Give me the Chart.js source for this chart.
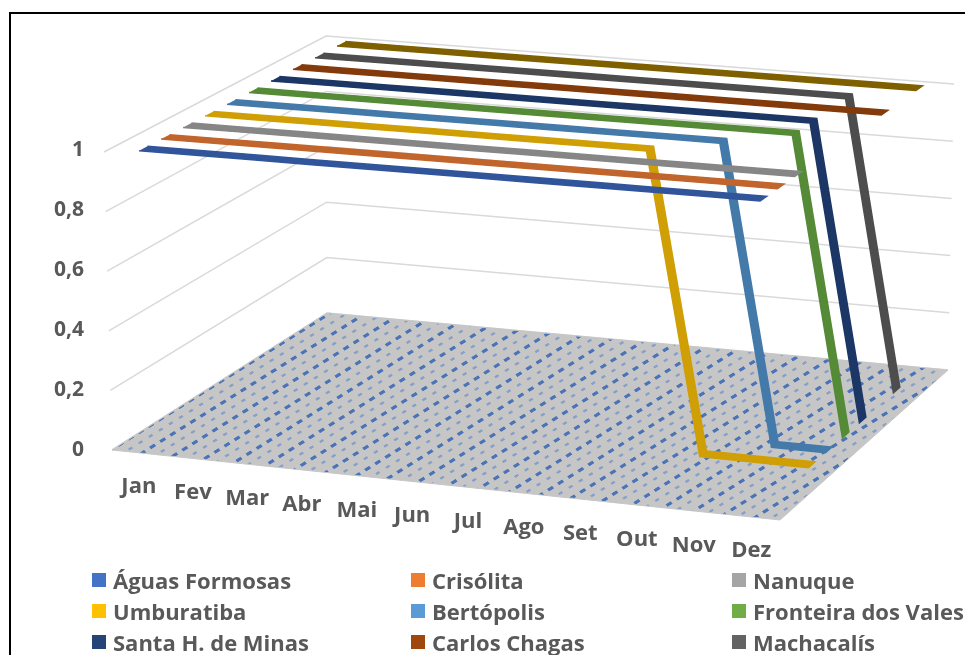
<!DOCTYPE html>
<html>
<head>
<meta charset="utf-8">
<style>
  html, body { margin: 0; padding: 0; width: 965px; height: 655px; overflow: hidden; background: #fff; }
  #frame { position: absolute; left: 9px; top: 12px; width: 1100px; height: 800px; border: 2px solid #000; }
  #c { position: absolute; left: 0; top: 0; }
  #legend { position: absolute; left: 0; top: 0; font: bold 22px "Open Sans", sans-serif; color: #595959; }
  #legend div { position: absolute; white-space: nowrap; line-height: 24px; }
  #legend i { position: absolute; left: -21px; top: 5px; width: 14px; height: 14px; }
</style>
<script src="https://cdn.jsdelivr.net/npm/chart.js@4"></script>
</head>
<body>
<div id="frame"></div>
<canvas id="c" width="965" height="655"></canvas>
<div id="legend"></div>
<script>
//data
var months = ['Jan', 'Fev', 'Mar', 'Abr', 'Mai', 'Jun', 'Jul', 'Ago', 'Set', 'Out', 'Nov', 'Dez'];
var yTicks = [0, 0.2, 0.4, 0.6, 0.8, 1];

var aguasFormosas = [1, 1, 1, 1, 1, 1, 1, 1, 1, 1, 1, 1];
var crisolita = [1, 1, 1, 1, 1, 1, 1, 1, 1, 1, 1, 1];
var nanuque = [1, 1, 1, 1, 1, 1, 1, 1, 1, 1, 1, 1];
var umburatiba = [1, 1, 1, 1, 1, 1, 1, 1, 1, 0, 0, 0];
var bertopolis = [1, 1, 1, 1, 1, 1, 1, 1, 1, 1, 0, 0];
var fronteira = [1, 1, 1, 1, 1, 1, 1, 1, 1, 1, 1, 0];
var santaH = [1, 1, 1, 1, 1, 1, 1, 1, 1, 1, 1, 0];
var carlosChagas = [1, 1, 1, 1, 1, 1, 1, 1, 1, 1, 1, 1];
var machacalis = [1, 1, 1, 1, 1, 1, 1, 1, 1, 1, 1, 0];
var decimaSerie = [1, 1, 1, 1, 1, 1, 1, 1, 1, 1, 1, 1]; //its legend entry is cut off in the picture

var seriesNames = ['Águas Formosas', 'Crisólita', 'Nanuque', 'Umburatiba', 'Bertópolis', 'Fronteira dos Vales', 'Santa H. de Minas', 'Carlos Chagas', 'Machacalís', ''];
var seriesValues = [aguasFormosas, crisolita, nanuque, umburatiba, bertopolis, fronteira, santaH, carlosChagas, machacalis, decimaSerie];
var legendColors = ['#4472c4', '#ed7d31', '#a5a5a5', '#ffc000', '#5b9bd5', '#70ad47', '#264478', '#9e480e', '#636363', '#997300'];
var ribbonColors = ['#31559b', '#c1652c', '#868686', '#cf9f05', '#447aa9', '#558a37', '#1c3765', '#833b0b', '#4d4d4d', '#7f6000'];

//corners of the 3D box on the page: [front left, front right, back left, back right]
var floorBox = [[112, 450], [780, 520], [327, 313], [948, 370]];
var topBox = [[104, 152], [783, 207], [326, 36], [954, 84]];
var ribbon = 0.019; //half width of a line, in depth units

//u along months, w into the depth, v the value (all 0..1), result in scale units
function project(u, w, v) {
    function plane(box, i) {
        var front = box[0][i] + (box[1][i] - box[0][i]) * u;
        var back = box[2][i] + (box[3][i] - box[2][i]) * u;
        return front + (back - front) * w;
    }
    var px = plane(floorBox, 0) + (plane(topBox, 0) - plane(floorBox, 0)) * v;
    var py = plane(floorBox, 1) + (plane(topBox, 1) - plane(floorBox, 1)) * v;
    return { x: px, y: (450 - py) / 300 };
}

function monthU(i) {
    return (i + 0.5) / months.length;
}

//a series as a flat band: forward on one edge, back on the other
function ribbonPoints(values, index) {
    var w = (index + 0.5) / seriesValues.length;
    var back = values.map(function (v, i) { return project(monthU(i), w + ribbon, v); });
    var front = values.map(function (v, i) { return project(monthU(i), w - ribbon, v); });
    return back.concat(front.reverse());
}

//floor texture, tile is laid along the floor by a matrix
function floorPattern(ctx) {
    var tile = document.createElement('canvas');
    tile.width = 14;
    tile.height = 24;
    var t = tile.getContext('2d');
    t.fillStyle = '#c6c6c6';
    t.fillRect(0, 0, 14, 24);
    t.fillStyle = '#4a73b8';
    t.fillRect(1, 3, 7, 4);
    t.fillStyle = '#88a0c8';
    t.fillRect(8, 15, 5, 3);
    var pattern = ctx.createPattern(tile, 'repeat');
    pattern.setTransform(new DOMMatrix([0.72, -0.45, 0.5, 0.62, 0, 0]));
    return pattern;
}

var ctx = document.getElementById('c').getContext('2d');
var datasets = [];

//first dataset is drawn on top, so series go first
seriesValues.forEach(function (values, i) {
    datasets.push({
        label: seriesNames[i],
        data: ribbonPoints(values, i),
        borderColor: ribbonColors[i],
        backgroundColor: ribbonColors[i],
        borderWidth: 1.5,
        fill: 'shape',
        pointRadius: 0,
        tension: 0,
        clip: false
    });
});

//floor
datasets.push({
    data: [project(0, 0, 0), project(1, 0, 0), project(1, 1, 0), project(0, 1, 0), project(0, 0, 0)],
    borderColor: '#c6c6c6',
    borderWidth: 1,
    backgroundColor: floorPattern(ctx),
    fill: 'shape',
    pointRadius: 0,
    tension: 0,
    clip: false
});

//wall grid lines
yTicks.forEach(function (v) {
    datasets.push({
        data: [project(0, 0, v), project(0, 1, v), project(1, 1, v)],
        borderColor: '#d9d9d9',
        borderWidth: 1.5,
        fill: false,
        pointRadius: 0,
        tension: 0,
        clip: false
    });
});

//month labels sit under the front edge of the floor
var monthLabels = {
    id: 'monthLabels',
    afterDraw: function (chart) {
        var c = chart.ctx;
        c.save();
        c.font = 'bold 22px "Open Sans", sans-serif';
        c.fillStyle = '#595959';
        c.textAlign = 'center';
        c.textBaseline = 'middle';
        months.forEach(function (m, i) {
            var u = monthU(i);
            var p = project(u, 0, 0);
            c.fillText(m, chart.scales.x.getPixelForValue(p.x) - 24 * u * (1 - u), chart.scales.y.getPixelForValue(p.y) + 34);
        });
        c.restore();
    }
};

var chart = new Chart(ctx, {
    type: 'line',
    data: { datasets: datasets },
    plugins: [monthLabels],
    options: {
        responsive: false,
        animation: false,
        parsing: false,
        normalized: false,
        layout: { padding: 0 },
        plugins: { legend: { display: false }, tooltip: { enabled: false } },
        scales: {
            x: { type: 'linear', display: false, min: 90, max: 965 },
            y: {
                type: 'linear',
                min: -205 / 300,
                max: 450 / 300,
                grid: { display: false, drawTicks: false },
                border: { display: false },
                afterBuildTicks: function (scale) {
                    scale.ticks = yTicks.map(function (v) { return { value: v }; });
                },
                afterFit: function (scale) {
                    scale.width = 90;
                    scale.paddingTop = 0;
                    scale.paddingBottom = 0;
                },
                ticks: {
                    padding: 6,
                    color: '#595959',
                    font: { family: '"Open Sans", sans-serif', size: 21, weight: 'bold' },
                    callback: function (v) { return String(v).replace('.', ','); }
                }
            }
        }
    }
});

//legend in three columns
var legendX = [113, 432, 753];
var legendY = [568, 599, 630];
var legendBox = document.getElementById('legend');
seriesNames.forEach(function (name, i) {
    if (!name) return;
    var item = document.createElement('div');
    item.style.left = legendX[i % 3] + 'px';
    item.style.top = legendY[Math.floor(i / 3)] + 'px';
    var swatch = document.createElement('i');
    swatch.style.background = legendColors[i];
    item.appendChild(swatch);
    item.appendChild(document.createTextNode(name));
    legendBox.appendChild(item);
});
</script>
</body>
</html>
